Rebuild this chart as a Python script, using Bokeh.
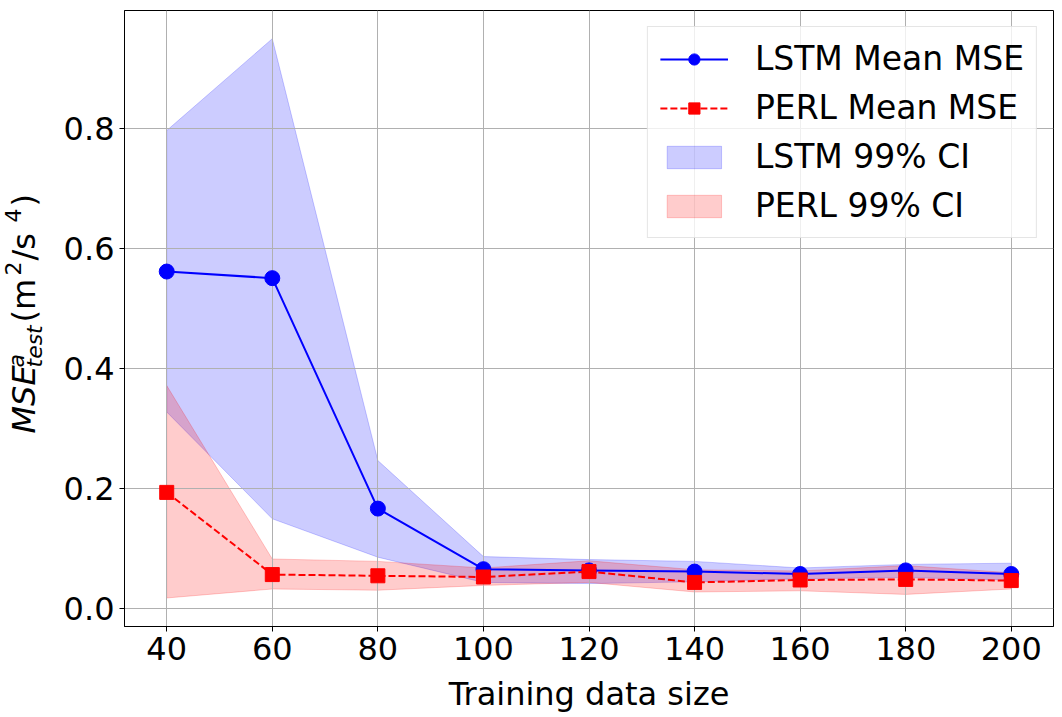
import math

from bokeh.embed import file_html
from bokeh.layouts import row
from bokeh.models import (FixedTicker, Label, Legend, LegendItem, NumeralTickFormatter,
                          Range1d)
from bokeh.plotting import figure
from bokeh.resources import INLINE

# Training set sizes and test MSE statistics
sizes = [40, 60, 80, 100, 120, 140, 160, 180, 200]
lstm_mean = [0.562, 0.551, 0.167, 0.066, 0.064, 0.062, 0.058, 0.064, 0.058]
lstm_lo = [0.328, 0.150, 0.086, 0.044, 0.042, 0.045, 0.050, 0.052, 0.048]
lstm_hi = [0.797, 0.950, 0.247, 0.087, 0.082, 0.079, 0.068, 0.074, 0.076]
perl_mean = [0.194, 0.057, 0.055, 0.053, 0.062, 0.044, 0.048, 0.049, 0.047]
perl_lo = [0.018, 0.033, 0.031, 0.039, 0.044, 0.028, 0.030, 0.024, 0.033]
perl_hi = [0.372, 0.083, 0.079, 0.068, 0.080, 0.065, 0.063, 0.072, 0.060]

x_ticks = [40, 60, 80, 100, 120, 140, 160, 180, 200]
y_ticks = [0.0, 0.2, 0.4, 0.6, 0.8]

FONT = "DejaVu Sans"
FS = "32px"
W, H = 1062, 717
TITLE_W = 60  # strip holding the vertical y-axis title
TOP, BOTTOM = 10, 91

p = figure(width=W - TITLE_W, height=H, output_backend="svg", toolbar_location=None,
           x_range=Range1d(32, 208), y_range=Range1d(-0.0295, 0.997),
           min_border_left=123 - TITLE_W, min_border_right=9, min_border_top=TOP,
           min_border_bottom=BOTTOM)

p.outline_line_color = "black"
p.outline_line_width = 1
p.outline_line_alpha = 1

for g in (p.xgrid, p.ygrid):
    g.grid_line_color = "#b0b0b0"
    g.grid_line_width = 1
p.xgrid.ticker = FixedTicker(ticks=x_ticks)
p.ygrid.ticker = FixedTicker(ticks=y_ticks)

p.xaxis.ticker = FixedTicker(ticks=x_ticks)
p.yaxis.ticker = FixedTicker(ticks=y_ticks)
p.yaxis.formatter = NumeralTickFormatter(format="0.0")
for ax in (p.xaxis, p.yaxis):
    ax.major_label_text_font = FONT
    ax.major_label_text_font_size = FS
    ax.major_label_text_color = "black"
    ax.major_tick_out = 5
    ax.major_tick_in = 0
    ax.minor_tick_line_color = None
    ax.major_tick_line_color = "black"
    ax.axis_line_color = "black"
    ax.major_label_standoff = 5
p.xaxis.axis_label = "Training data size"
p.xaxis.axis_label_text_font = FONT
p.xaxis.axis_label_text_font_size = FS
p.xaxis.axis_label_text_font_style = "normal"
p.xaxis.axis_label_text_color = "black"
p.xaxis.axis_label_standoff = 12

# Confidence bands (drawn beneath the grid)
band_x = sizes + sizes[::-1]
lstm_band = p.patch(band_x, lstm_hi + lstm_lo[::-1], fill_color="blue", fill_alpha=0.2,
                    line_color="blue", line_alpha=0.2, line_width=1, level="image")
perl_band = p.patch(band_x, perl_hi + perl_lo[::-1], fill_color="red", fill_alpha=0.2,
                    line_color="red", line_alpha=0.2, line_width=1, level="image")

# Mean curves
lstm_line = p.line(sizes, lstm_mean, line_color="blue", line_width=2)
lstm_pts = p.scatter(sizes, lstm_mean, marker="circle", size=15, fill_color="blue",
                     line_color="blue")
perl_line = p.line(sizes, perl_mean, line_color="red", line_width=2, line_dash="7 3")
perl_pts = p.scatter(sizes, perl_mean, marker="square", size=14, fill_color="red",
                     line_color="red")

legend = Legend(items=[
    LegendItem(label="LSTM Mean MSE", renderers=[lstm_line, lstm_pts]),
    LegendItem(label="PERL Mean MSE", renderers=[perl_line, perl_pts]),
    LegendItem(label="LSTM 99% CI", renderers=[lstm_band]),
    LegendItem(label="PERL 99% CI", renderers=[perl_band]),
], location="top_right")
legend.margin = 16
legend.padding = 12
legend.spacing = 10
legend.glyph_width = 68
legend.glyph_height = 28
legend.label_standoff = 27
legend.label_height = 38
legend.label_text_font = FONT
legend.label_text_font_size = "33px"
legend.label_text_color = "black"
legend.border_line_color = "#cccccc"
legend.border_line_width = 1
legend.background_fill_alpha = 0.8
p.add_layout(legend)

# Narrow strip to the left carrying the y-axis title: MSE^a_test (m^2/s^4).
# Its frame lines up with the main frame, so screen y is measured from that frame's bottom.
t = figure(width=TITLE_W, height=H, output_backend="svg", toolbar_location=None,
           x_axis_location=None, y_axis_location=None, min_border=0,
           x_range=Range1d(0, TITLE_W), y_range=Range1d(0, H))
t.grid.visible = False
t.outline_line_color = None

frame_bottom = H - BOTTOM
rot = math.pi / 2
# (text, baseline x, start y in page pixels, size, style)
pieces = [
    ("MSE", 38, 433, 32, "italic"),
    ("a", 26, 367, 22, "italic"),
    ("test", 44, 367, 22, "italic"),
    ("(m", 38, 322, 32, "normal"),
    ("2", 22, 275, 22, "normal"),
    ("/s", 38, 260, 32, "normal"),
    ("4", 22, 222, 22, "normal"),
    (")", 38, 206, 32, "normal"),
]
for txt, px, py, fs, style in pieces:
    t.add_layout(Label(x=px - 0.44 * fs, y=frame_bottom - py, x_units="screen",
                       y_units="screen", text=txt, angle=rot, text_font=FONT,
                       text_font_size=f"{fs}px", text_font_style=style,
                       text_align="left", text_baseline="alphabetic",
                       text_color="black"))

layout = row(t, p, spacing=0)
open("out.html", "w").write(file_html(layout, INLINE))
